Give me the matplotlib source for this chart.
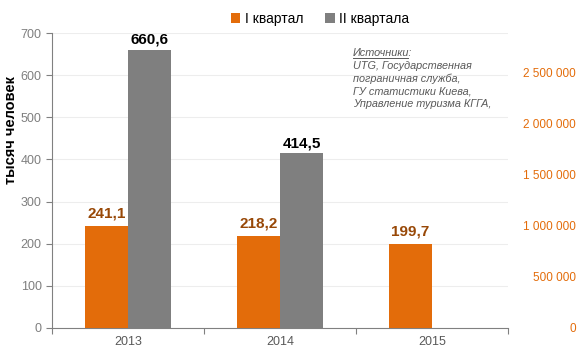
import numpy as np
import matplotlib.pyplot as plt
from matplotlib.lines import Line2D

plt.rcParams['font.family'] = ['Liberation Sans', 'DejaVu Sans']

# Данные
years = ['2013', '2014', '2015']
q1 = [241.1, 218.2, 199.7]
q2 = [660.6, 414.5, None]
q1_labels = ['241,1', '218,2', '199,7']
q2_labels = ['660,6', '414,5', '']
left_ticks = [0, 100, 200, 300, 400, 500, 600, 700]
right_ticks = [0, 500000, 1000000, 1500000, 2000000, 2500000]
right_labels = ['0', '500 000', '1 000 000', '1 500 000', '2 000 000', '2 500 000']
sources = ['UTG, Государственная', 'пограничная служба,',
           'ГУ статистики Киева,', 'Управление туризма КГГА,']

orange = '#E36C0A'
gray = '#7F7F7F'
label_brown = '#984807'
tick_gray = '#808080'

W, H = 583, 357
fig = plt.figure(figsize=(W / 100, H / 100), dpi=100)
ax = fig.add_axes([52 / W, 1 - 328 / H, 456 / W, 295 / H])

x = np.arange(len(years))
w = 0.283
ax.bar(x - w / 2, q1, width=w, color=orange, zorder=3, label='I квартал')
q2_vals = [v if v is not None else 0 for v in q2]
ax.bar(x + w / 2, q2_vals, width=w, color=gray, zorder=3, label='II квартала')

for i in range(len(years)):
    ax.annotate(q1_labels[i], (x[i] - w / 2, q1[i]), xytext=(0, 4),
                textcoords='offset points', ha='center', va='bottom',
                fontsize=11, fontweight='bold', color=label_brown)
    if q2[i] is not None:
        ax.annotate(q2_labels[i], (x[i] + w / 2, q2[i]), xytext=(0, 2),
                    textcoords='offset points', ha='center', va='bottom',
                    fontsize=11, fontweight='bold', color='black')

ax.set_xlim(-0.5, 2.5)
ax.set_ylim(0, 700)
ax.set_yticks(left_ticks)
ax.yaxis.grid(True, color='#EDEDED', linewidth=0.8, zorder=0)
ax.set_axisbelow(True)

# Подписи категорий и деления на границах
ax.set_xticks([-0.5, 0.5, 1.5, 2.5])
ax.set_xticklabels([])
ax.set_xticks(x, minor=True)
ax.set_xticklabels(years, minor=True)
ax.tick_params(axis='x', which='major', length=4, color=tick_gray, direction='out')
ax.tick_params(axis='x', which='minor', length=0, pad=6, labelsize=9, labelcolor='#595959')
ax.tick_params(axis='y', length=4, color=tick_gray, labelsize=9, labelcolor='#7F7F7F')

for s in ['top', 'right']:
    ax.spines[s].set_visible(False)
ax.spines['left'].set_color(tick_gray)
ax.spines['bottom'].set_color(tick_gray)

fig.text(11 / W, 1 - 130 / H, 'тысяч человек', rotation=90, fontsize=10.5,
         fontweight='bold', color='black', ha='center', va='center')

# Правая ось
ax2 = ax.twinx()
ax2.set_ylim(0, 2890000)
ax2.set_yticks(right_ticks)
ax2.set_yticklabels(right_labels)
ax2.tick_params(axis='y', length=0, labelsize=8.5, labelcolor=orange, pad=49)
for lab in ax2.get_yticklabels():
    lab.set_horizontalalignment('right')
for s in ax2.spines.values():
    s.set_visible(False)

# Легенда
ax.legend(loc='upper center', bbox_to_anchor=(0.5 + 40 / 456, 1.115), ncol=2, frameon=False,
          fontsize=10, handlelength=0.7, handleheight=0.7, handletextpad=0.3,
          columnspacing=1.6)

# Источники
src_x = 353 / W
fs = 7.8
fig.text(src_x, 1 - 53 / H, 'Источники:', fontsize=fs, style='italic',
         color='#595959', va='center')
probe = fig.text(src_x, 1 - 53 / H, 'Источники', fontsize=fs, style='italic',
                 color='#595959', va='center', alpha=0)
fig.canvas.draw()
bb = probe.get_window_extent()
y_ul = (bb.y0 - 0.3) / fig.bbox.height
fig.add_artist(Line2D([bb.x0 / fig.bbox.width, (bb.x1 - 1) / fig.bbox.width], [y_ul, y_ul],
                      color='#595959', linewidth=0.7))
for k, line in enumerate(sources):
    fig.text(src_x, 1 - (66 + 12.8 * k) / H, line, fontsize=fs, style='italic',
             color='#595959', va='center')

fig.savefig('out.png', dpi=100)
